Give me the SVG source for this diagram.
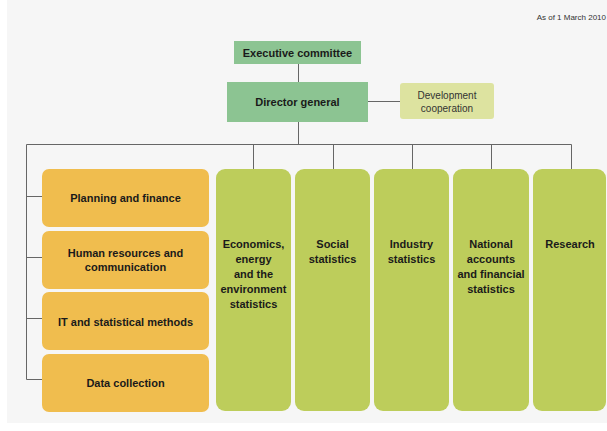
<svg xmlns="http://www.w3.org/2000/svg" width="607" height="431" viewBox="0 0 607 431">
  <style>
    .bold { font-family: "Liberation Sans", Arial, sans-serif; font-weight: bold; font-size: 11px; fill: #1a1a1a; text-anchor: middle; }
    .reg { font-family: "Liberation Sans", Arial, sans-serif; font-size: 10px; fill: #333; text-anchor: middle; }
    .line { stroke: #666; stroke-width: 1; fill: none; }
    .top { fill: #8cc492; }
    .dev { fill: #dde3a0; }
    .unit { fill: #f0bd4e; }
    .dept { fill: #bdcd5b; }
  </style>

  <!-- page -->
  <rect x="0" y="0" width="607" height="431" fill="#ffffff"/>
  <rect x="7" y="0" width="600" height="423" fill="#f6f6f6"/>
  <text x="606" y="20" style="font-family:'Liberation Sans',Arial,sans-serif;font-size:8px;fill:#333;text-anchor:end">As of 1 March 2010</text>

  <!-- connectors -->
  <g id="connectors">
    <path class="line" d="M298.5 64 V82"/>
    <path class="line" d="M368 101.5 H400"/>
    <path class="line" d="M298.5 122 V144.5"/>
    <path class="line" d="M26.5 144.5 H571.5"/>
    <path class="line" d="M253.5 144.5 V169 M333.5 144.5 V169 M412.5 144.5 V169 M491.5 144.5 V169 M571.5 144.5 V169"/>
    <path class="line" d="M26.5 144.5 V379.5"/>
    <path class="line" d="M26.5 196.5 H42 M26.5 257.5 H42 M26.5 318.5 H42 M26.5 379.5 H42"/>
  </g>

  <!-- management -->
  <g id="executive-committee">
    <rect class="top" x="234" y="41" width="127" height="23"/>
    <text class="bold" x="297.5" y="57">Executive committee</text>
  </g>
  <g id="director-general">
    <rect class="top" x="227" y="82" width="141" height="40"/>
    <text class="bold" x="297.5" y="106">Director general</text>
  </g>
  <g id="development-cooperation">
    <rect class="dev" x="400" y="83" width="94" height="36" rx="3"/>
    <text class="reg" x="447" y="98.5">Development</text>
    <text class="reg" x="447" y="112">cooperation</text>
  </g>

  <!-- service units -->
  <g id="planning-finance">
    <rect class="unit" x="42" y="169" width="167" height="58" rx="7"/>
    <text class="bold" x="125.5" y="202">Planning and finance</text>
  </g>
  <g id="human-resources">
    <rect class="unit" x="42" y="231" width="167" height="58" rx="7"/>
    <text class="bold" x="125.5" y="257">Human resources and</text>
    <text class="bold" x="125.5" y="271">communication</text>
  </g>
  <g id="it-methods">
    <rect class="unit" x="42" y="292" width="167" height="58" rx="7"/>
    <text class="bold" x="125.5" y="326">IT and statistical methods</text>
  </g>
  <g id="data-collection">
    <rect class="unit" x="42" y="354" width="167" height="58" rx="7"/>
    <text class="bold" x="125.5" y="387">Data collection</text>
  </g>

  <!-- departments -->
  <g id="economics">
    <rect class="dept" x="216" y="169" width="75" height="242" rx="9"/>
    <text class="bold" x="253.5" y="248">Economics,</text>
    <text class="bold" x="253.5" y="263">energy</text>
    <text class="bold" x="253.5" y="278">and the</text>
    <text class="bold" x="253.5" y="293">environment</text>
    <text class="bold" x="253.5" y="308">statistics</text>
  </g>
  <g id="social">
    <rect class="dept" x="295" y="169" width="75" height="242" rx="9"/>
    <text class="bold" x="332.5" y="248">Social</text>
    <text class="bold" x="332.5" y="263">statistics</text>
  </g>
  <g id="industry">
    <rect class="dept" x="374" y="169" width="75" height="242" rx="9"/>
    <text class="bold" x="411.5" y="248">Industry</text>
    <text class="bold" x="411.5" y="263">statistics</text>
  </g>
  <g id="national-accounts">
    <rect class="dept" x="453" y="169" width="76" height="242" rx="9"/>
    <text class="bold" x="491" y="248">National</text>
    <text class="bold" x="491" y="263">accounts</text>
    <text class="bold" x="491" y="278">and financial</text>
    <text class="bold" x="491" y="293">statistics</text>
  </g>
  <g id="research">
    <rect class="dept" x="533" y="169" width="73" height="242" rx="9"/>
    <text class="bold" x="570" y="248">Research</text>
  </g>
</svg>
